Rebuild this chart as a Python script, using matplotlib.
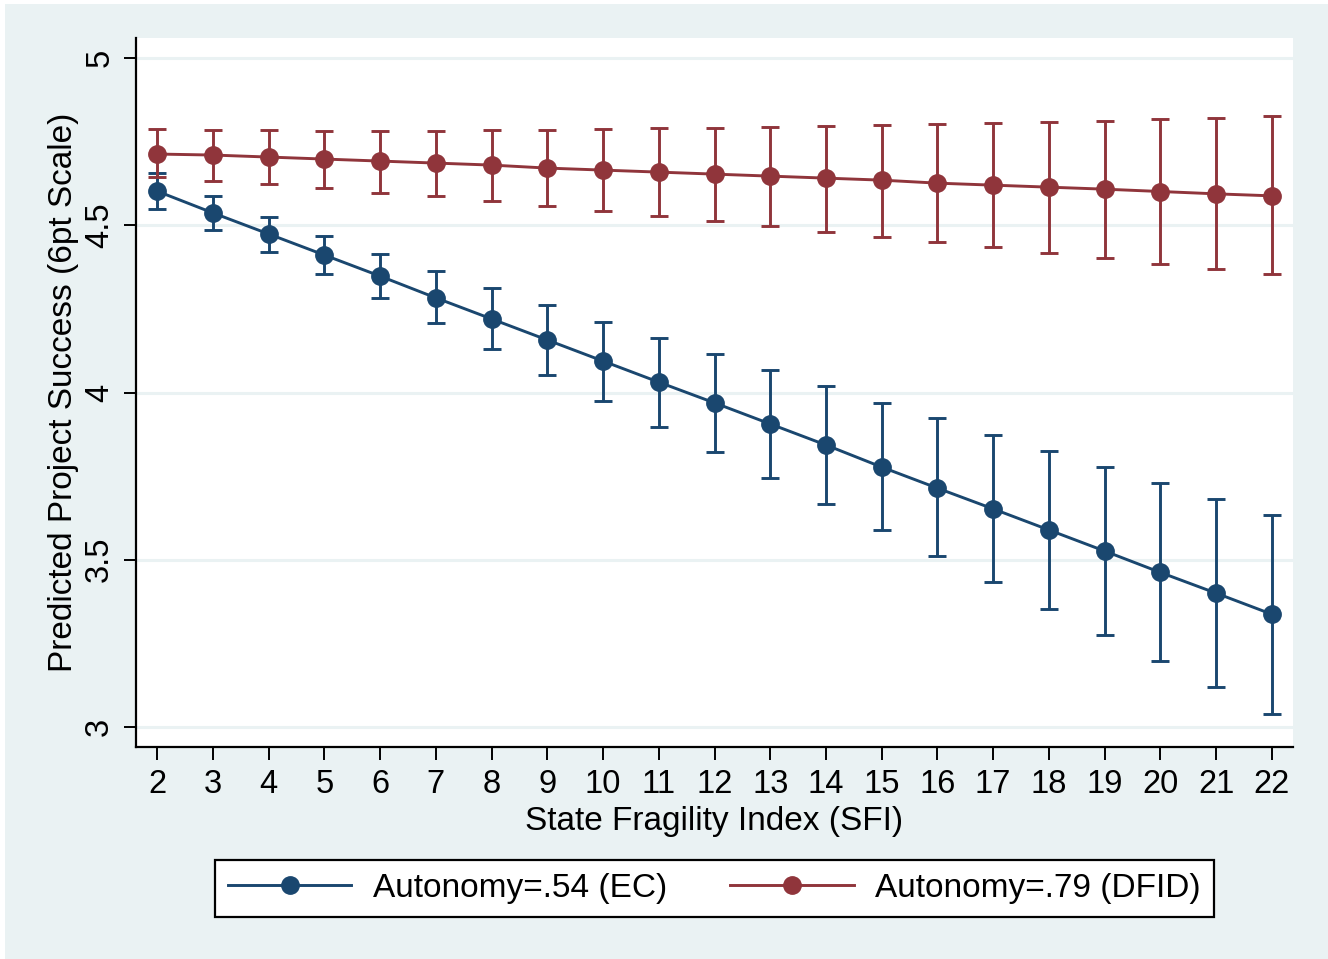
import numpy as np
import matplotlib.pyplot as plt
from matplotlib.patches import Rectangle

sfi = np.arange(2, 23)

# Autonomy=.54 (EC)
ec_mean = [4.602, 4.537, 4.474, 4.411, 4.348, 4.283, 4.220, 4.157, 4.094, 4.031, 3.969,
           3.906, 3.843, 3.777, 3.714, 3.652, 3.589, 3.526, 3.462, 3.400, 3.337]
ec_hi = [4.656, 4.588, 4.526, 4.469, 4.415, 4.363, 4.312, 4.262, 4.211, 4.163, 4.115,
         4.067, 4.019, 3.969, 3.924, 3.873, 3.825, 3.778, 3.729, 3.682, 3.634]
ec_lo = [4.548, 4.486, 4.421, 4.354, 4.282, 4.208, 4.130, 4.052, 3.975, 3.897, 3.822,
         3.744, 3.667, 3.589, 3.511, 3.433, 3.353, 3.275, 3.196, 3.118, 3.038]

# Autonomy=.79 (DFID)
dfid_mean = [4.713, 4.710, 4.704, 4.698, 4.692, 4.686, 4.680, 4.671, 4.665, 4.659, 4.653,
             4.647, 4.641, 4.635, 4.626, 4.620, 4.614, 4.608, 4.601, 4.594, 4.588]
dfid_hi = [4.788, 4.785, 4.785, 4.782, 4.782, 4.782, 4.785, 4.785, 4.788, 4.791, 4.791,
           4.794, 4.797, 4.800, 4.803, 4.806, 4.809, 4.812, 4.818, 4.822, 4.826]
dfid_lo = [4.643, 4.632, 4.623, 4.611, 4.598, 4.587, 4.572, 4.558, 4.543, 4.528, 4.513,
           4.498, 4.480, 4.465, 4.450, 4.435, 4.417, 4.402, 4.385, 4.368, 4.353]

labels = ["Autonomy=.54 (EC)", "Autonomy=.79 (DFID)"]
blue = "#1a476f"
red = "#90353b"
bg = "#eaf2f3"

plt.rcParams['font.family'] = ['Liberation Sans', 'DejaVu Sans']

fig = plt.figure(figsize=(13.28, 9.59), dpi=100, facecolor="white")
fig.patches.append(Rectangle((5 / 1328, 0), 1, 1 - 4 / 959, transform=fig.transFigure,
                             facecolor=bg, edgecolor="none", zorder=-10))

ax = fig.add_axes([136 / 1328, 1 - 747 / 959, (1293 - 136) / 1328, (747 - 38) / 959])
ax.set_facecolor("white")

lines = []
for mean, lo, hi, col in [(ec_mean, ec_lo, ec_hi, blue), (dfid_mean, dfid_lo, dfid_hi, red)]:
    mean = np.array(mean)
    err = [mean - np.array(lo), np.array(hi) - mean]
    ax.errorbar(sfi, mean, yerr=err, fmt="none", ecolor=col, elinewidth=2.1,
                capsize=6.2, capthick=2.1, zorder=3)
    ln, = ax.plot(sfi, mean, color=col, lw=2.1, marker="o", markersize=12.5,
                  markeredgecolor=col, zorder=4)
    lines.append(ln)

ax.set_xlim(1.62, 22.38)
ax.set_ylim(2.94, 5.06)
ax.set_xticks(sfi)
ax.set_yticks([3, 3.5, 4, 4.5, 5])
ax.set_yticklabels(["3", "3.5", "4", "4.5", "5"], rotation=90, va="center")
ax.tick_params(axis="both", labelsize=23.5, length=9, width=1.4, color="black")
ax.tick_params(axis="y", pad=6)
ax.tick_params(axis="x", pad=7)
ax.grid(axis="y", color=bg, lw=2.2, zorder=0)
ax.set_axisbelow(True)
for s in ["top", "right"]:
    ax.spines[s].set_visible(False)
for s in ["left", "bottom"]:
    ax.spines[s].set_linewidth(1.6)

ax.set_xlabel("State Fragility Index (SFI)", fontsize=24, labelpad=4)
ax.set_ylabel("Predicted Project Success (6pt Scale)", fontsize=24, labelpad=4)

leg = fig.legend(lines, labels, loc="center", bbox_to_anchor=(0.538, 0.0736), ncol=2,
                 fontsize=24, frameon=True, fancybox=False, handlelength=3.7,
                 handletextpad=0.65, columnspacing=1.9, borderpad=0.4)
leg.get_frame().set_edgecolor("black")
leg.get_frame().set_linewidth(1.6)
leg.get_frame().set_facecolor("white")
leg.get_frame().set_alpha(1)

fig.savefig("out.png", dpi=100, facecolor="white")
